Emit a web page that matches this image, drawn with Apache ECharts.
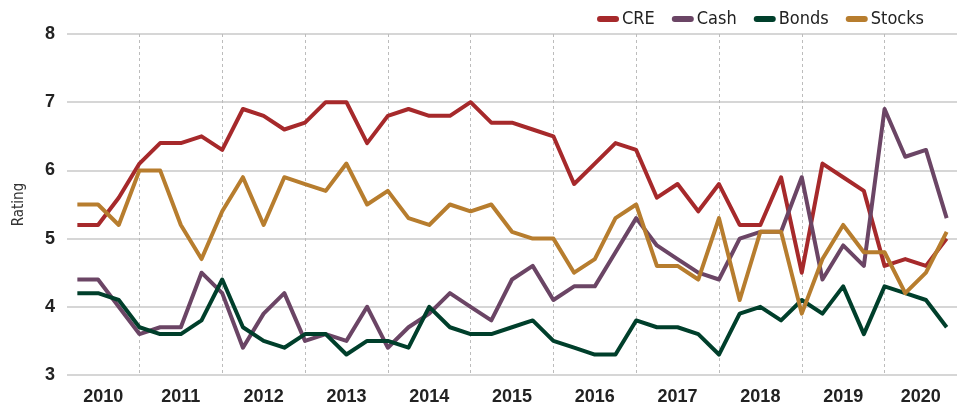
<!DOCTYPE html>
<html>
<head>
<meta charset="utf-8">
<script src="https://cdn.jsdelivr.net/npm/echarts@6/dist/echarts.min.js"></script>
<style>
  html, body { margin: 0; padding: 0; background: #fff; }
  #chart { width: 961px; height: 408px; }
</style>
</head>
<body>
<div id="chart"></div>
<script>
// quarterly ratings, 2010 Q2 .. 2020 Q4
const years = ['2010', '2011', '2012', '2013', '2014', '2015', '2016', '2017', '2018', '2019', '2020']
const quarters = []
years.forEach(y => {
    for (let q = 1; q <= 4; q++) {
        if (y === '2010' && q === 1) continue
        quarters.push(y + ' Q' + q)
    }
})

const cre = [5.2, 5.2, 5.6, 6.1, 6.4, 6.4, 6.5, 6.3, 6.9, 6.8, 6.6, 6.7, 7.0, 7.0,
    6.4, 6.8, 6.9, 6.8, 6.8, 7.0, 6.7, 6.7, 6.6, 6.5, 5.8, 6.1, 6.4, 6.3,
    5.6, 5.8, 5.4, 5.8, 5.2, 5.2, 5.9, 4.5, 6.1, 5.9, 5.7, 4.6, 4.7, 4.6, 5.0]
const cash = [4.4, 4.4, 4.0, 3.6, 3.7, 3.7, 4.5, 4.2, 3.4, 3.9, 4.2, 3.5, 3.6, 3.5,
    4.0, 3.4, 3.7, 3.9, 4.2, 4.0, 3.8, 4.4, 4.6, 4.1, 4.3, 4.3, 4.8, 5.3,
    4.9, 4.7, 4.5, 4.4, 5.0, 5.1, 5.1, 5.9, 4.4, 4.9, 4.6, 6.9, 6.2, 6.3, 5.3]
const bonds = [4.2, 4.2, 4.1, 3.7, 3.6, 3.6, 3.8, 4.4, 3.7, 3.5, 3.4, 3.6, 3.6, 3.3,
    3.5, 3.5, 3.4, 4.0, 3.7, 3.6, 3.6, 3.7, 3.8, 3.5, 3.4, 3.3, 3.3, 3.8,
    3.7, 3.7, 3.6, 3.3, 3.9, 4.0, 3.8, 4.1, 3.9, 4.3, 3.6, 4.3, 4.2, 4.1, 3.7]
const stocks = [5.5, 5.5, 5.2, 6.0, 6.0, 5.2, 4.7, 5.4, 5.9, 5.2, 5.9, 5.8, 5.7, 6.1,
    5.5, 5.7, 5.3, 5.2, 5.5, 5.4, 5.5, 5.1, 5.0, 5.0, 4.5, 4.7, 5.3, 5.5,
    4.6, 4.6, 4.4, 5.3, 4.1, 5.1, 5.1, 3.9, 4.7, 5.2, 4.8, 4.8, 4.2, 4.5, 5.1]

const seriesNames = ['CRE', 'Cash', 'Bonds', 'Stocks']
const seriesColors = ['#a6292b', '#6b4565', '#003f2b', '#b77d2e']

const condensed = "'DejaVu Sans Condensed', Roboto, sans-serif"

// year bands on the quarter scale (band units, 0 .. quarters.length)
const yearStarts = years.map(y => quarters.findIndex(q => q.startsWith(y)))
const splitAt = yearStarts.slice(1).map(i => i + 0.5)
const labelAt = years.map((y, k) => {
    const a = k === 0 ? 0 : yearStarts[k] + 0.5
    const b = k === years.length - 1 ? quarters.length : yearStarts[k + 1] + 0.5
    return (a + b) / 2
})

const chart = echarts.init(document.getElementById('chart'))

const option = {
    animation: false,
    color: seriesColors,
    grid: {
        left: 67,
        right: 4,
        top: 34,
        bottom: 33
    },
    legend: {
        right: 32,
        top: 5,
        icon: 'path://M3,0 H19 A3,3 0 0 1 19,6 H3 A3,3 0 0 1 3,0 Z',
        itemWidth: 22,
        itemHeight: 6,
        itemGap: 17,
        textStyle: {
            fontFamily: condensed,
            fontSize: 18,
            color: '#222',
            padding: [0, 0, 0, -2]
        },
        data: seriesNames
    },
    xAxis: [
        {
            type: 'category',
            data: quarters,
            boundaryGap: true,
            show: false
        },
        {
            type: 'value',
            min: 0,
            max: quarters.length,
            position: 'bottom',
            axisLine: { show: false },
            axisTick: { show: false, customValues: splitAt },
            splitLine: {
                show: true,
                lineStyle: { color: '#bcbcbc', width: 1, type: [3, 3] }
            },
            axisLabel: {
                customValues: labelAt,
                margin: 13,
                fontFamily: 'Liberation Sans',
                fontWeight: 'bold',
                fontSize: 18,
                color: '#222',
                formatter: v => {
                    const k = labelAt.findIndex(p => Math.abs(p - v) < 1e-6)
                    return k >= 0 ? years[k] : ''
                }
            }
        }
    ],
    yAxis: {
        type: 'value',
        min: 3,
        max: 8,
        interval: 1,
        name: 'Rating',
        nameLocation: 'middle',
        nameGap: 40,
        nameTextStyle: {
            fontFamily: condensed,
            fontSize: 15,
            color: '#333'
        },
        axisLine: { show: false },
        axisTick: { show: false },
        axisLabel: {
            margin: 12,
            fontFamily: 'Liberation Sans',
            fontWeight: 'bold',
            fontSize: 18,
            color: '#222'
        },
        splitLine: {
            lineStyle: { color: '#c8c8c8', width: 1.5 }
        }
    },
    series: [cre, cash, bonds, stocks].map((d, i) => ({
        name: seriesNames[i],
        type: 'line',
        xAxisIndex: 0,
        data: d,
        symbol: 'none',
        lineStyle: { width: 4, join: 'round' }
    }))
}

chart.setOption(option)
</script>
</body>
</html>
